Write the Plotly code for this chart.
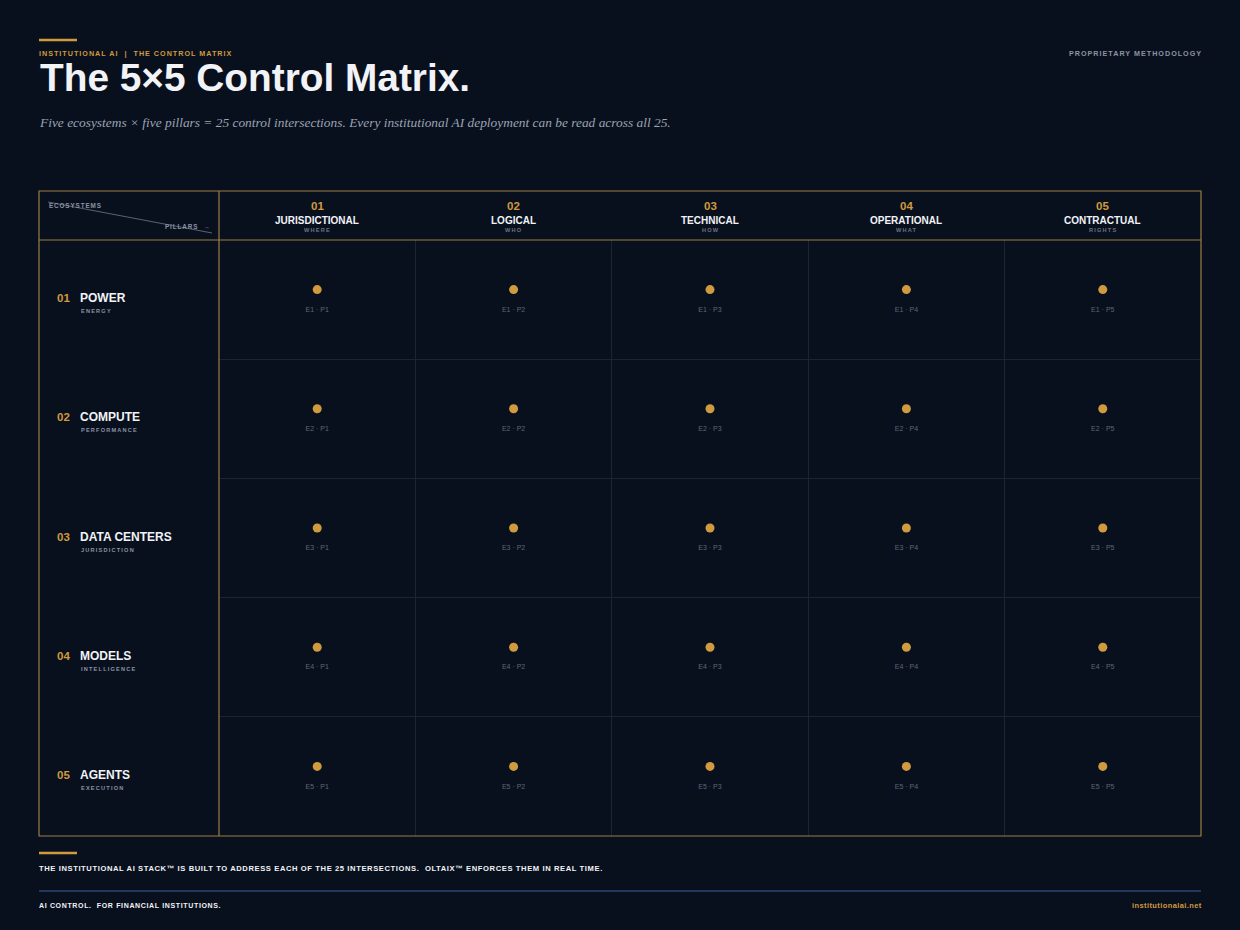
import plotly.graph_objects as go

W, H = 1240, 930

# data
pillar_nums = ["01", "02", "03", "04", "05"]
pillar_names = ["JURISDICTIONAL", "LOGICAL", "TECHNICAL", "OPERATIONAL", "CONTRACTUAL"]
pillar_subs = ["WHERE", "WHO", "HOW", "WHAT", "RIGHTS"]
eco_nums = ["01", "02", "03", "04", "05"]
eco_names = ["POWER", "COMPUTE", "DATA CENTERS", "MODELS", "AGENTS"]
eco_subs = ["ENERGY", "PERFORMANCE", "JURISDICTION", "INTELLIGENCE", "EXECUTION"]

BG = "#09101d"
GOLD = "#d09a3e"
FRAME = "#9c7d45"
WHITE = "#f1f3f7"
GRAY = "#8b93a5"
DIM = "#5d6678"
SANS = "Liberation Sans, Arial, sans-serif"


def px(x):
    return x / W


def py(y):
    return 1 - y / H


def spaced(s, ls):
    return f'<span style="letter-spacing:{ls}px">{s}</span>'


# grid area in pixels
GX0, GX1 = 219, 1201
GY0, GY1 = 240, 836
TOP = 191
LEFT = 39

cells_x = []
cells_y = []
cells_lbl = []
for e in range(1, 6):
    for p in range(1, 6):
        cells_x.append(p)
        cells_y.append(e)
        cells_lbl.append(f"E{e} · P{p}")

fig = go.Figure()

fig.add_trace(go.Scatter(
    x=cells_x, y=cells_y, xaxis="x2", yaxis="y2", mode="markers",
    marker=dict(size=9, color=GOLD, line_width=0), hoverinfo="skip", showlegend=False))
fig.add_trace(go.Scatter(
    x=cells_x, y=cells_y, xaxis="x3", yaxis="y3", mode="text", text=cells_lbl,
    textfont=dict(family=SANS, size=7, color=DIM), hoverinfo="skip", showlegend=False))

ann = []


def txt(x, y, s, size, color, xanchor="left", xref="paper", yref="paper", bold=True,
        family=SANS, italic=False, yshift=0):
    ann.append(dict(x=x, y=y, xref=xref, yref=yref, text=s, showarrow=False,
                    xanchor=xanchor, yanchor="middle", yshift=yshift,
                    font=dict(family=family, size=size, color=color,
                              weight="bold" if bold else "normal",
                              style="italic" if italic else "normal")))


# header texts
txt(px(37), py(53), spaced("INSTITUTIONAL AI  |  THE CONTROL MATRIX", 1), 7.2, GOLD)
txt(px(1204), py(53), spaced("PROPRIETARY METHODOLOGY", 1), 7.2, GRAY, xanchor="right")
txt(px(37.5), py(78), "The 5×5 Control Matrix.", 38.8, WHITE)
txt(px(36.5), py(122),
    "Five ecosystems × five pillars = 25 control intersections. "
    "Every institutional AI deployment can be read across all 25.",
    13.4, "#9ba3b4", bold=False, italic=True, family="Liberation Serif, Times New Roman, serif")

# column headers
for i in range(5):
    txt(i + 1, py(206), pillar_nums[i], 11.5, GOLD, xanchor="center", xref="x")
    txt(i + 1, py(220), pillar_names[i], 10, WHITE, xanchor="center", xref="x")
    txt(i + 1, py(230), spaced(pillar_subs[i], 1.2), 5.6, "#6c7486", xanchor="center", xref="x")

# row headers
for i in range(5):
    txt(px(55), i + 1, eco_nums[i], 11.5, GOLD, yref="y", yshift=1.5)
    txt(px(78), i + 1, eco_names[i], 12, WHITE, yref="y", yshift=1.5)
    txt(px(78.5), i + 1, spaced(eco_subs[i], 1.2), 5.6, GRAY, yref="y", yshift=-11.5)

# corner
txt(px(47), py(206), spaced("ECOSYSTEMS", 0.9), 6.3, GRAY)
txt(px(213), py(226), spaced("PILLARS  →", 0.9), 6.3, GRAY, xanchor="right")

# footer
txt(px(37), py(868),
    spaced("THE INSTITUTIONAL AI STACK™ IS BUILT TO ADDRESS EACH OF THE 25 INTERSECTIONS.  "
           "OLTAIX™ ENFORCES THEM IN REAL TIME.", 0.6), 7.6, WHITE)
txt(px(37), py(905), spaced("AI CONTROL.  FOR FINANCIAL INSTITUTIONS.", 0.65), 7, WHITE)
txt(px(1204), py(905), spaced("institutionalai.net", 0.4), 7.5, GOLD, xanchor="right")


def pline(x0, y0, x1, y1, color, width):
    return dict(type="line", xref="paper", yref="paper", x0=px(x0), x1=px(x1),
                y0=py(y0), y1=py(y1), line=dict(color=color, width=width))


shapes = [
    pline(39, 40, 77, 40, GOLD, 2.5),
    pline(39, 853, 77, 853, GOLD, 2.5),
    pline(39, 891, 1201, 891, "#2b4571", 1.6),
    pline(48, 202, 212, 233, "#6f7789", 0.8),
    # frame
    dict(type="rect", xref="paper", yref="paper", x0=px(LEFT), x1=px(GX1), y0=py(TOP), y1=py(GY1),
         line=dict(color=FRAME, width=1.2), layer="above"),
    pline(LEFT, GY0, GX1, GY0, FRAME, 1.2),
    pline(GX0, TOP, GX0, GY1, FRAME, 1.2),
]

grid = dict(range=[0.5, 5.5], tickvals=[1.5, 2.5, 3.5, 4.5], showgrid=True, gridcolor="#1b2434",
            gridwidth=1, showticklabels=False, ticks="", zeroline=False, showline=False, fixedrange=True)
hidden_x = dict(range=[0.5, 5.5], visible=False, showgrid=False, zeroline=False, fixedrange=True,
                domain=[px(GX0), px(GX1)])
hidden_y = dict(range=[5.5, 0.5], visible=False, showgrid=False, zeroline=False, fixedrange=True)

fig.update_layout(
    width=W, height=H,
    margin=dict(l=0, r=0, t=0, b=0),
    paper_bgcolor=BG, plot_bgcolor="rgba(0,0,0,0)",
    xaxis=dict(domain=[px(GX0), px(GX1)], anchor="y", **grid),
    yaxis=dict(domain=[py(GY1), py(GY0)], anchor="x", **{**grid, "range": [5.5, 0.5]}),
    xaxis2=dict(anchor="y2", **hidden_x),
    xaxis3=dict(anchor="y3", **hidden_x),
    yaxis2=dict(domain=[py(GY1 - 10), py(GY0 - 10)], anchor="x2", **hidden_y),
    yaxis3=dict(domain=[py(GY1 + 10.5), py(GY0 + 10.5)], anchor="x3", **hidden_y),
    annotations=ann,
    shapes=shapes,
    showlegend=False,
    hovermode=False,
)

fig.write_html("out.html", config={"displayModeBar": False},
               post_script="document.body.style.margin='0';document.body.style.background='#09101d';")
